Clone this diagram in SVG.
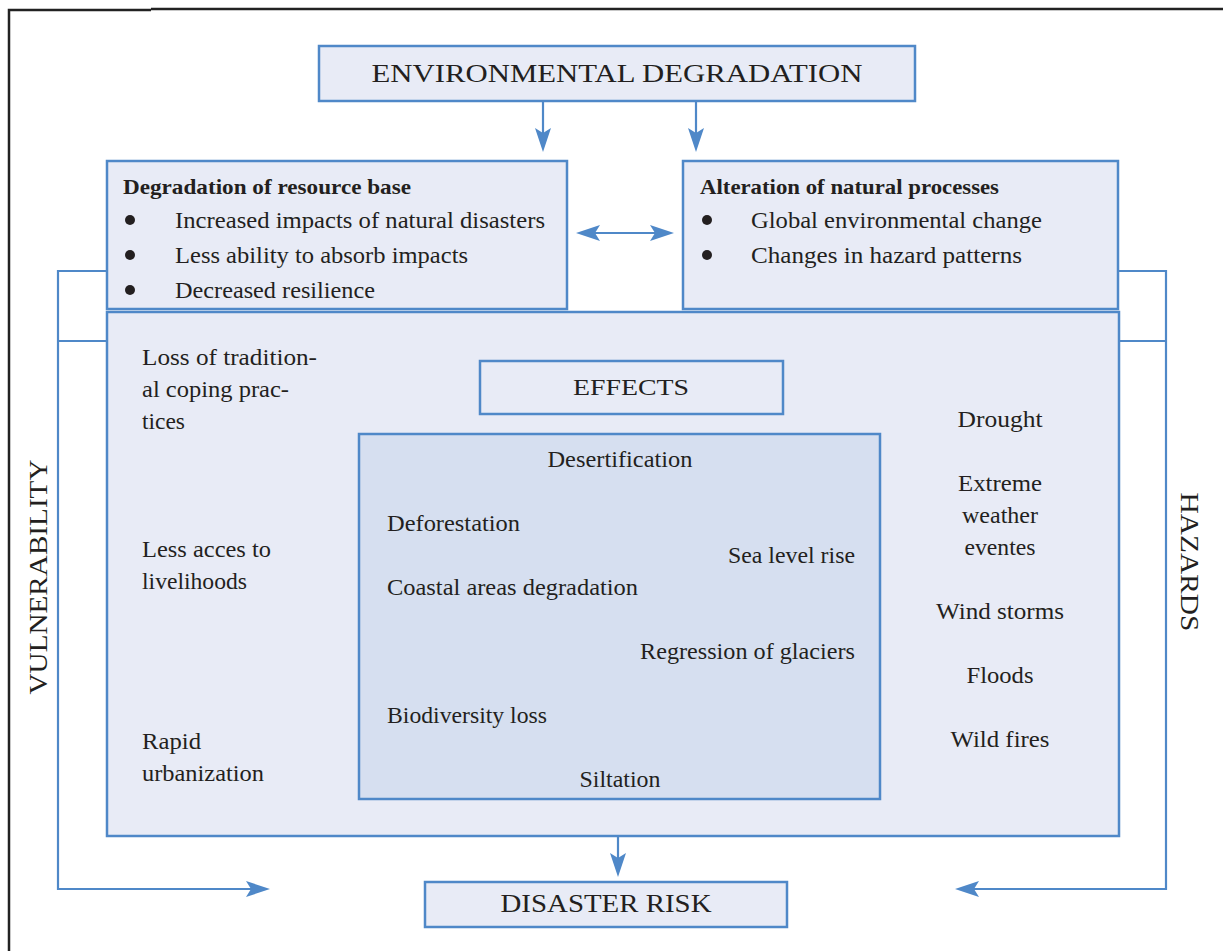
<svg xmlns="http://www.w3.org/2000/svg" width="1223" height="951" viewBox="0 0 1223 951">
<defs>
<style>
.box{fill:#e8ebf6;stroke:#4f88c8;stroke-width:2.5}
.inner{fill:#d6dff0;stroke:#4f88c8;stroke-width:2.5}
.con{fill:none;stroke:#4f88c8;stroke-width:2.2}
.t{font-family:"Liberation Serif",serif;fill:#231f20;font-size:23.5px}
.b{font-weight:bold;font-size:21.5px}
.cap{font-size:26px}
.mid{text-anchor:middle}
.end{text-anchor:end}
.dot{fill:#231f20}
.frame{fill:none;stroke:#222;stroke-width:2.5}
</style>
<marker id="ah" viewBox="0 0 24 16" markerWidth="24" markerHeight="16" refX="14" refY="8" orient="auto-start-reverse" markerUnits="userSpaceOnUse">
<path d="M0,0 L24,8 L0,16 L5,8 z" fill="#4f88c8"/>
</marker>
</defs>
<rect width="1223" height="951" fill="#ffffff"/>
<g id="frame">
<path class="frame" d="M9,951 V10 H151"/>
<path class="frame" d="M151,9 H1223"/>
</g>
<g id="connectors">
<path class="con" d="M543,101 V142" marker-end="url(#ah)"/>
<path class="con" d="M696,101 V142" marker-end="url(#ah)"/>
<path class="con" d="M586,233 H664" marker-start="url(#ah)" marker-end="url(#ah)"/>
<path class="con" d="M618,836 V867" marker-end="url(#ah)"/>
<path class="con" d="M107,271 H58 V889 H260" marker-end="url(#ah)"/>
<path class="con" d="M58,341 H107"/>
<path class="con" d="M1119,271 H1166 V889 H965" marker-end="url(#ah)"/>
<path class="con" d="M1119,341 H1166"/>
</g>
<g id="env">
<rect class="box" x="319" y="46" width="596" height="55"/>
<text class="t cap mid" x="617" y="82" textLength="491" lengthAdjust="spacingAndGlyphs">ENVIRONMENTAL DEGRADATION</text>
</g>
<g id="resource">
<rect class="box" x="107" y="161" width="460" height="148"/>
<text class="t b" x="123" y="194" textLength="288" lengthAdjust="spacingAndGlyphs">Degradation of resource base</text>
<circle class="dot" cx="130" cy="220" r="5"/>
<text class="t" x="175" y="228" textLength="370" lengthAdjust="spacingAndGlyphs">Increased impacts of natural disasters</text>
<circle class="dot" cx="130" cy="255" r="5"/>
<text class="t" x="175" y="263" textLength="293" lengthAdjust="spacingAndGlyphs">Less ability to absorb impacts</text>
<circle class="dot" cx="130" cy="290" r="5"/>
<text class="t" x="175" y="298" textLength="200" lengthAdjust="spacingAndGlyphs">Decreased resilience</text>
</g>
<g id="alteration">
<rect class="box" x="683" y="161" width="435" height="148"/>
<text class="t b" x="700" y="194" textLength="299" lengthAdjust="spacingAndGlyphs">Alteration of natural processes</text>
<circle class="dot" cx="707" cy="220" r="5"/>
<text class="t" x="751" y="228" textLength="291" lengthAdjust="spacingAndGlyphs">Global environmental change</text>
<circle class="dot" cx="707" cy="255" r="5"/>
<text class="t" x="751" y="263" textLength="271" lengthAdjust="spacingAndGlyphs">Changes in hazard patterns</text>
</g>
<g id="main">
<rect class="box" x="107" y="312" width="1012" height="524"/>
<text class="t" x="142" y="365" textLength="175" lengthAdjust="spacingAndGlyphs">Loss of tradition-</text>
<text class="t" x="142" y="397" textLength="147" lengthAdjust="spacingAndGlyphs">al coping prac-</text>
<text class="t" x="142" y="429" textLength="43" lengthAdjust="spacingAndGlyphs">tices</text>
<text class="t" x="142" y="557" textLength="129" lengthAdjust="spacingAndGlyphs">Less acces to</text>
<text class="t" x="142" y="589" textLength="105" lengthAdjust="spacingAndGlyphs">livelihoods</text>
<text class="t" x="142" y="749" textLength="59" lengthAdjust="spacingAndGlyphs">Rapid</text>
<text class="t" x="142" y="781" textLength="122" lengthAdjust="spacingAndGlyphs">urbanization</text>
<text class="t mid" x="1000" y="427" textLength="85" lengthAdjust="spacingAndGlyphs">Drought</text>
<text class="t mid" x="1000" y="491" textLength="84" lengthAdjust="spacingAndGlyphs">Extreme</text>
<text class="t mid" x="1000" y="523" textLength="76" lengthAdjust="spacingAndGlyphs">weather</text>
<text class="t mid" x="1000" y="555" textLength="71" lengthAdjust="spacingAndGlyphs">eventes</text>
<text class="t mid" x="1000" y="619" textLength="128" lengthAdjust="spacingAndGlyphs">Wind storms</text>
<text class="t mid" x="1000" y="683" textLength="67" lengthAdjust="spacingAndGlyphs">Floods</text>
<text class="t mid" x="1000" y="747" textLength="99" lengthAdjust="spacingAndGlyphs">Wild fires</text>
</g>
<g id="effects">
<rect class="box" x="480" y="361" width="303" height="53"/>
<text class="t mid" x="631" y="395" textLength="116" lengthAdjust="spacingAndGlyphs">EFFECTS</text>
</g>
<g id="effects-list">
<rect class="inner" x="359" y="434" width="521" height="365"/>
<text class="t mid" x="620" y="467" textLength="145" lengthAdjust="spacingAndGlyphs">Desertification</text>
<text class="t" x="387" y="531" textLength="133" lengthAdjust="spacingAndGlyphs">Deforestation</text>
<text class="t end" x="855" y="563" textLength="127" lengthAdjust="spacingAndGlyphs">Sea level rise</text>
<text class="t" x="387" y="595" textLength="251" lengthAdjust="spacingAndGlyphs">Coastal areas degradation</text>
<text class="t end" x="855" y="659" textLength="215" lengthAdjust="spacingAndGlyphs">Regression of glaciers</text>
<text class="t" x="387" y="723" textLength="160" lengthAdjust="spacingAndGlyphs">Biodiversity loss</text>
<text class="t mid" x="620" y="787" textLength="81" lengthAdjust="spacingAndGlyphs">Siltation</text>
</g>
<g id="vulnerability">
<text class="t cap mid" transform="translate(47,577) rotate(-90)" textLength="235" lengthAdjust="spacingAndGlyphs">VULNERABILITY</text>
</g>
<g id="hazards">
<text class="t cap mid" transform="translate(1181,562) rotate(90)" textLength="139" lengthAdjust="spacingAndGlyphs">HAZARDS</text>
</g>
<g id="disaster">
<rect class="box" x="425" y="882" width="362" height="45"/>
<text class="t cap mid" x="606" y="912" textLength="211" lengthAdjust="spacingAndGlyphs">DISASTER RISK</text>
</g>
</svg>
